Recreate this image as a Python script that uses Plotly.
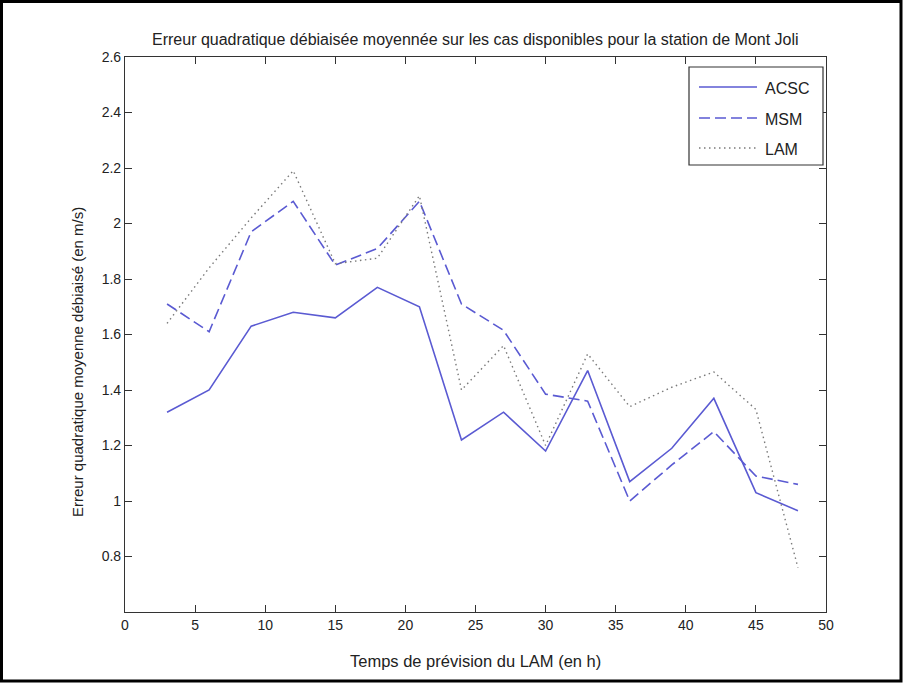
import plotly.graph_objects as go

# Forecast lead time (h)
lead_time = [3, 6, 9, 12, 15, 18, 21, 24, 27, 30, 33, 36, 39, 42, 45, 48]

# Unbiased RMSE (m/s) per model
acsc = [1.32, 1.40, 1.63, 1.68, 1.66, 1.77, 1.70, 1.22, 1.32, 1.18, 1.47, 1.07, 1.19, 1.37, 1.03, 0.965]
msm = [1.71, 1.61, 1.97, 2.08, 1.85, 1.91, 2.08, 1.71, 1.615, 1.385, 1.36, 1.00, 1.13, 1.25, 1.09, 1.06]
lam = [1.64, 1.84, 2.02, 2.19, 1.855, 1.875, 2.10, 1.40, 1.56, 1.20, 1.53, 1.34, 1.41, 1.465, 1.33, 0.76]

series_names = ["ACSC", "MSM", "LAM"]

x_ticks = [0, 5, 10, 15, 20, 25, 30, 35, 40, 45, 50]
y_ticks = [0.8, 1.0, 1.2, 1.4, 1.6, 1.8, 2.0, 2.2, 2.4, 2.6]
y_tick_text = ["0.8", "1", "1.2", "1.4", "1.6", "1.8", "2", "2.2", "2.4", "2.6"]

title_text = "Erreur quadratique débiaisée moyennée sur les cas disponibles pour la station de Mont Joli"
x_title = "Temps de prévision du LAM (en h)"
y_title = "Erreur quadratique moyenne débiaisé (en m/s)"

BLUE = "#5a5ad2"
GREY = "#7a7a7a"
FONT = "Liberation Sans, Arial, sans-serif"

styles = [
    dict(color=BLUE, width=1.6, dash="solid"),
    dict(color=BLUE, width=1.6, dash="11px,5px"),
    dict(color=GREY, width=1.4, dash="1.5px,3.5px"),
]

fig = go.Figure()
for name, vals, st in zip(series_names, [acsc, msm, lam], styles):
    fig.add_trace(go.Scatter(x=lead_time, y=vals, mode="lines", name=name,
                             line=st, showlegend=False))

W, H = 903, 683
ML, MR, MT, MB = 125, 77, 57, 71
PW, PH = W - ML - MR, H - MT - MB


def px(xp):
    return (xp - ML) / PW


def py(yp):
    return (H - MB - yp) / PH


shapes = []
annotations = []

# outer figure frame
shapes.append(dict(type="rect", xref="paper", yref="paper",
                   x0=px(1.5), x1=px(901), y0=py(681), y1=py(1.5),
                   line=dict(color="black", width=3), layer="above"))

# legend box
shapes.append(dict(type="rect", xref="paper", yref="paper",
                   x0=px(689), x1=px(823), y0=py(165), y1=py(67),
                   fillcolor="white", line=dict(color="#333333", width=1.2),
                   layer="above"))
legend_rows = [87, 118, 148]
for name, st, yr in zip(series_names, styles, legend_rows):
    shapes.append(dict(type="line", xref="paper", yref="paper",
                       x0=px(699), x1=px(757), y0=py(yr), y1=py(yr),
                       line=st, layer="above"))
    annotations.append(dict(text=name, xref="paper", yref="paper",
                            x=px(763), y=py(yr + 2), xanchor="left", yanchor="middle",
                            showarrow=False, font=dict(size=16, color="#222", family=FONT)))

annotations.append(dict(text=title_text, xref="paper", yref="paper",
                        x=px(475), y=py(39), xanchor="center", yanchor="middle",
                        showarrow=False, font=dict(size=16, color="#222", family=FONT)))
annotations.append(dict(text=x_title, xref="paper", yref="paper",
                        x=px(476), y=py(661), xanchor="center", yanchor="middle",
                        showarrow=False, font=dict(size=16.5, color="#222", family=FONT)))
annotations.append(dict(text=y_title, xref="paper", yref="paper",
                        x=px(78), y=py(362), xanchor="center", yanchor="middle",
                        textangle=-90, showarrow=False,
                        font=dict(size=15, color="#222", family=FONT)))

axis_common = dict(showgrid=False, zeroline=False, showline=True, linecolor="#333333",
                   linewidth=1.2, mirror="allticks", ticks="inside", ticklen=7,
                   tickcolor="#333333", tickwidth=1.2,
                   tickfont=dict(size=14, color="#222", family=FONT))

fig.update_layout(
    width=W, height=H,
    margin=dict(l=ML, r=MR, t=MT, b=MB, autoexpand=False),
    paper_bgcolor="white", plot_bgcolor="white",
    xaxis=dict(range=[0, 50], tickvals=x_ticks, **axis_common),
    yaxis=dict(range=[0.6, 2.6], tickvals=y_ticks, ticktext=y_tick_text, **axis_common),
    shapes=shapes, annotations=annotations, showlegend=False,
)

fig.write_html("out.html", config=dict(displayModeBar=False))
